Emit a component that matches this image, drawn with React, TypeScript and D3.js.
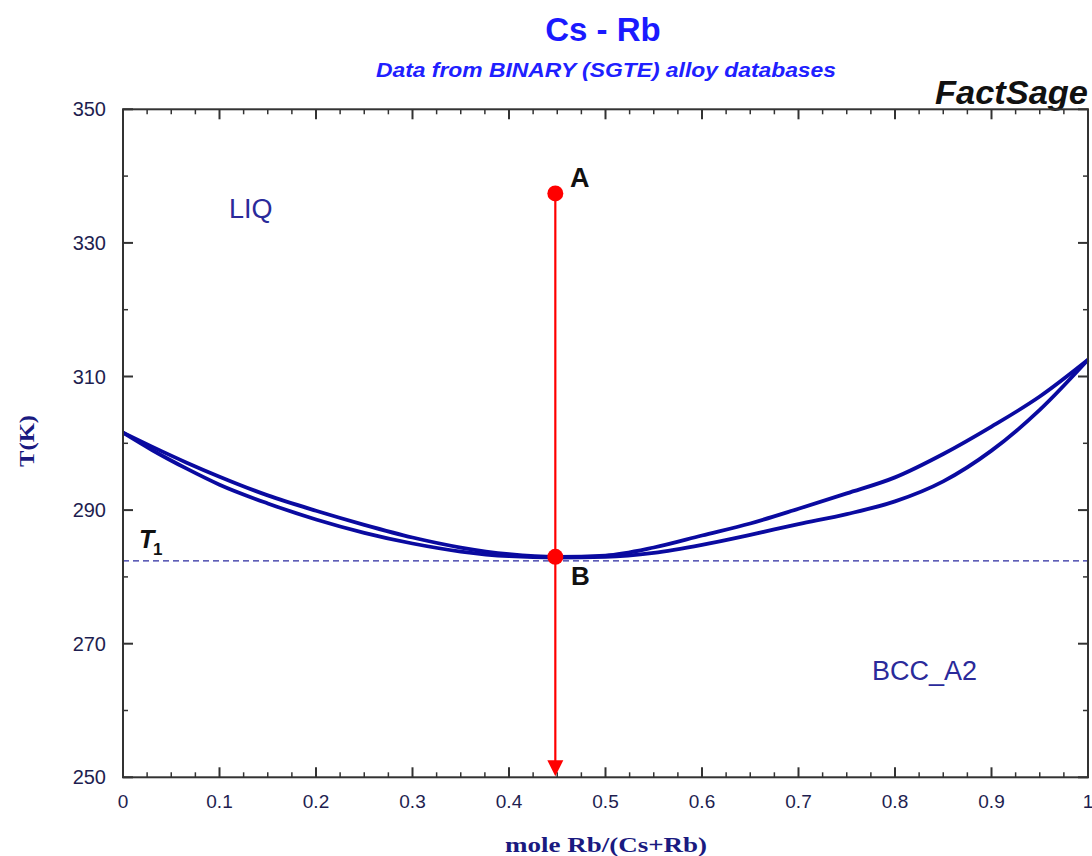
import React from "react";
import * as d3 from "d3";

// ---- data ----
const compX = [0, 0.03, 0.066, 0.1, 0.15, 0.2, 0.25, 0.3, 0.35, 0.4, 0.45, 0.5, 0.55, 0.6, 0.65, 0.7, 0.75, 0.8, 0.85, 0.9, 0.95, 1.0];
const liquidusT = [301.6, 299.5, 297.1, 295.0, 292.2, 289.9, 287.8, 285.9, 284.4, 283.4, 283.0, 283.2, 284.4, 286.2, 288.0, 290.2, 292.5, 294.9, 298.4, 302.5, 307.0, 312.5];
const solidusT = [301.6, 299.0, 296.2, 293.8, 291.0, 288.6, 286.6, 285.0, 283.8, 283.1, 282.9, 283.0, 283.6, 284.8, 286.3, 287.9, 289.4, 291.3, 294.3, 298.9, 305.0, 312.5];

const xTicks = [0, 0.1, 0.2, 0.3, 0.4, 0.5, 0.6, 0.7, 0.8, 0.9, 1];
const xTickLabels = ["0", "0.1", "0.2", "0.3", "0.4", "0.5", "0.6", "0.7", "0.8", "0.9", "1"];
const yTicks = [250, 270, 290, 310, 330, 350];

const pathX = 0.448;
const pointA = 337.4;
const pointB = 283.0;
const t1 = 282.4;

const W = 1092;
const H = 856;
const L = 123, R = 1088, T = 109.3, B = 777.3;

export default function App() {
  const x = d3.scaleLinear().domain([0, 1]).range([L, R]);
  const y = d3.scaleLinear().domain([250, 350]).range([B, T]);

  const line = d3
    .line<number>()
    .x((_, i) => x(compX[i]))
    .y((d) => y(d))
    .curve(d3.curveMonotoneX);

  const xMinor = d3.range(0, 1.0001, 0.025).filter((v) => Math.abs(v * 10 - Math.round(v * 10)) > 1e-6);
  const yMinor = d3.range(260, 350, 20);

  const axisColor = "#333";
  const labelColor = "#1e1e50";
  const curveColor = "#0a0aa0";

  const px = x(pathX);

  return (
    <svg width={W} height={H} style={{ position: "absolute", left: 0, top: 0, background: "#fff" }}>
      {/* Titles */}
      <text x={603} y={41} textAnchor="middle" fontFamily="Liberation Sans, Arial, sans-serif" fontWeight="bold" fontSize={33} fill="#1a1aff">
        Cs - Rb
      </text>
      <text x={606} y={77} textAnchor="middle" fontFamily="Liberation Sans, Arial, sans-serif" fontStyle="italic" fontWeight="bold" fontSize={20} fill="#2020ff" textLength={460} lengthAdjust="spacingAndGlyphs">
        Data from BINARY (SGTE) alloy databases
      </text>
      <text x={1088} y={104} textAnchor="end" fontFamily="Liberation Sans, Arial, sans-serif" fontStyle="italic" fontWeight="bold" fontSize={33} fill="#111" textLength={153} lengthAdjust="spacingAndGlyphs">
        FactSage
      </text>

      {/* T1 dashed line */}
      <line x1={L} x2={R} y1={y(t1)} y2={y(t1)} stroke="#2a2aa0" strokeWidth={1.2} strokeDasharray="6,4" />

      {/* Curves */}
      <path d={line(liquidusT) || ""} fill="none" stroke={curveColor} strokeWidth={3.8} />
      <path d={line(solidusT) || ""} fill="none" stroke={curveColor} strokeWidth={3.8} />

      {/* Frame */}
      <rect x={L} y={T} width={R - L} height={B - T} fill="none" stroke={axisColor} strokeWidth={2} />

      {/* X ticks */}
      {xTicks.map((v) => (
        <g key={"xt" + v}>
          <line x1={x(v)} x2={x(v)} y1={B} y2={B - 10} stroke={axisColor} strokeWidth={2} />
          <line x1={x(v)} x2={x(v)} y1={T} y2={T + 10} stroke={axisColor} strokeWidth={2} />
        </g>
      ))}
      {xMinor.map((v) => (
        <g key={"xm" + v}>
          <line x1={x(v)} x2={x(v)} y1={B} y2={B - 5} stroke={axisColor} strokeWidth={1.5} />
          <line x1={x(v)} x2={x(v)} y1={T} y2={T + 5} stroke={axisColor} strokeWidth={1.5} />
        </g>
      ))}
      {xTicks.map((v, i) => (
        <text key={"xl" + v} x={x(v)} y={808} textAnchor="middle" fontFamily="Liberation Sans, Arial, sans-serif" fontSize={19} fill={labelColor}>
          {xTickLabels[i]}
        </text>
      ))}

      {/* Y ticks */}
      {yTicks.map((v) => (
        <g key={"yt" + v}>
          <line x1={L} x2={L + 10} y1={y(v)} y2={y(v)} stroke={axisColor} strokeWidth={2} />
          <line x1={R} x2={R - 10} y1={y(v)} y2={y(v)} stroke={axisColor} strokeWidth={2} />
          <text x={106} y={y(v) + 7} textAnchor="end" fontFamily="Liberation Sans, Arial, sans-serif" fontSize={20} fill={labelColor}>
            {v}
          </text>
        </g>
      ))}
      {yMinor.map((v) => (
        <g key={"ym" + v}>
          <line x1={L} x2={L + 5} y1={y(v)} y2={y(v)} stroke={axisColor} strokeWidth={1.5} />
          <line x1={R} x2={R - 5} y1={y(v)} y2={y(v)} stroke={axisColor} strokeWidth={1.5} />
        </g>
      ))}

      {/* Axis titles */}
      <text x={606} y={852} textAnchor="middle" fontFamily="Liberation Serif, Times New Roman, serif" fontWeight="bold" fontSize={21} fill="#1a1a80" textLength={202} lengthAdjust="spacingAndGlyphs">
        mole Rb/(Cs+Rb)
      </text>
      <text transform="translate(34,441) rotate(-90)" textAnchor="middle" fontFamily="Liberation Serif, Times New Roman, serif" fontWeight="bold" fontSize={22} fill="#1a1a80" textLength={52} lengthAdjust="spacingAndGlyphs">
        T(K)
      </text>

      {/* Phase labels */}
      <text x={229} y={218} fontFamily="Liberation Sans, Arial, sans-serif" fontSize={27} fill="#2a2a9a">
        LIQ
      </text>
      <text x={872} y={680} fontFamily="Liberation Sans, Arial, sans-serif" fontSize={27} fill="#2a2a9a">
        BCC_A2
      </text>

      {/* T1 label */}
      <text x={139} y={548} fontFamily="Liberation Sans, Arial, sans-serif" fontStyle="italic" fontWeight="bold" fontSize={25} fill="#111">
        T
      </text>
      <text x={153} y={555} fontFamily="Liberation Sans, Arial, sans-serif" fontWeight="bold" fontSize={17} fill="#111">
        1
      </text>

      {/* Red path A -> B -> down */}
      <line x1={px} x2={px} y1={y(pointA)} y2={B - 14} stroke="#ff0000" strokeWidth={2.2} />
      <path d={`M${px - 8},${B - 17} L${px + 8},${B - 17} L${px},${B - 1} Z`} fill="#ff0000" />
      <circle cx={px} cy={y(pointA)} r={8} fill="#ff0000" />
      <circle cx={px} cy={y(pointB)} r={8} fill="#ff0000" />
      <text x={570} y={187} fontFamily="Liberation Sans, Arial, sans-serif" fontWeight="bold" fontSize={27} fill="#111">
        A
      </text>
      <text x={571} y={585} fontFamily="Liberation Sans, Arial, sans-serif" fontWeight="bold" fontSize={26} fill="#111">
        B
      </text>
    </svg>
  );
}
